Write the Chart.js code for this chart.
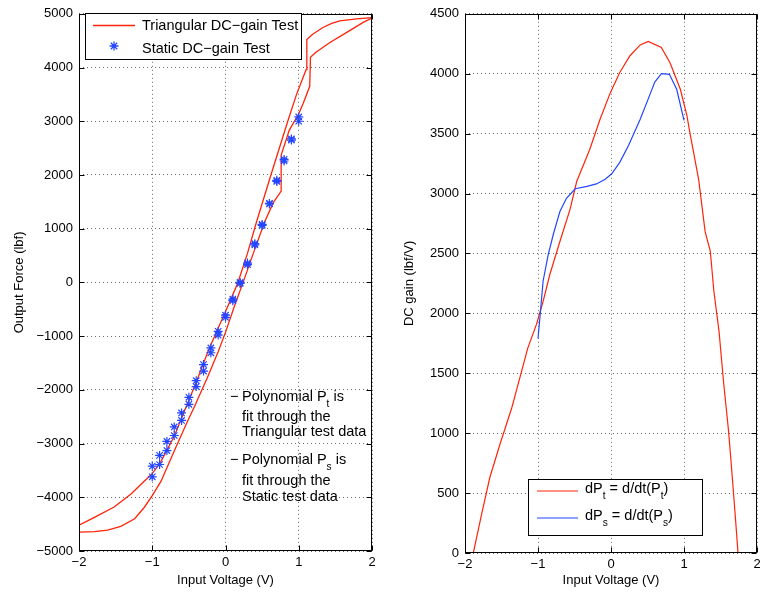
<!DOCTYPE html>
<html>
<head>
<meta charset="utf-8">
<script src="https://cdn.jsdelivr.net/npm/chart.js@4.4.0/dist/chart.umd.min.js"></script>
<style>
  html,body{margin:0;padding:0;background:#fff;overflow:hidden;width:760px;height:596px}
  #wrapIzq{position:absolute;left:0;top:0;width:390px;height:596px}
  #wrapDer{position:absolute;left:390px;top:0;width:400px;height:596px}
</style>
</head>
<body>
<div id="wrapIzq"><canvas id="grafFuerza" width="390" height="596"></canvas></div>
<div id="wrapDer"><canvas id="grafGanancia" width="400" height="596"></canvas></div>
<script>
// ---- datos ----
// rama superior del ensayo triangular (izquierda del lazo)
const triSubeV = [-2, -1.79, -1.52, -1.29, -1.11, -1.0, -0.88, -0.7, -0.52, -0.4, -0.24, -0.1, 0, 0.09, 0.17, 0.3, 0.42, 0.62, 0.85, 0.97, 1.1, 1.11, 1.19, 1.33, 1.45, 1.56, 1.79, 2]
const triSubeF = [-4520, -4375, -4180, -3940, -3700, -3560, -3330, -2865, -2260, -1860, -1290, -850, -540, -260, 0, 540, 1110, 2000, 3000, 3500, 3960, 4520, 4620, 4745, 4820, 4870, 4905, 4930]
// rama inferior (derecha del lazo)
const triBajaV = [-2, -1.79, -1.61, -1.43, -1.24, -1.11, -1.0, -0.88, -0.7, -0.52, -0.42, -0.25, -0.1, 0, 0.12, 0.24, 0.4, 0.53, 0.65, 0.76, 0.76, 0.87, 1.0, 1.06, 1.15, 1.16, 1.23, 1.42, 1.65, 1.88, 2]
const triBajaF = [-4650, -4640, -4610, -4540, -4400, -4190, -3970, -3700, -3140, -2590, -2300, -1780, -1290, -930, -450, 0, 620, 1110, 1480, 1700, 2370, 2830, 3140, 3330, 3650, 4190, 4280, 4460, 4650, 4840, 4920]
// ensayo estatico (dos lecturas por voltaje)
const estaticoV = [-1, -1, -0.9, -0.9, -0.8, -0.8, -0.7, -0.7, -0.6, -0.6, -0.5, -0.5, -0.4, -0.4, -0.3, -0.3, -0.2, -0.2, -0.1, -0.1, 0, 0, 0.1, 0.1, 0.2, 0.2, 0.3, 0.3, 0.4, 0.4, 0.5, 0.5, 0.6, 0.6, 0.7, 0.7, 0.8, 0.8, 0.9, 0.9, 1, 1]
const estaticoF = [-3420, -3620, -3220, -3390, -2960, -3130, -2690, -2850, -2430, -2570, -2140, -2270, -1830, -1940, -1530, -1650, -1220, -1310, -910, -980, -610, -650, -310, -340, 0, -20, 330, 360, 700, 720, 1060, 1080, 1460, 1470, 1880, 1900, 2260, 2290, 2650, 2670, 3000, 3080]
// ganancia DC
const gananciaTV = [-1.886, -1.77, -1.66, -1.52, -1.36, -1.25, -1.14, -1.02, -0.93, -0.84, -0.7, -0.56, -0.47, -0.29, -0.15, -0.01, 0.12, 0.26, 0.4, 0.51, 0.69, 0.81, 0.95, 1.04, 1.08, 1.2, 1.29, 1.36, 1.41, 1.48, 1.54, 1.61, 1.65, 1.7, 1.74]
const gananciaTY = [0, 330, 630, 910, 1210, 1460, 1710, 1910, 2100, 2320, 2600, 2870, 3100, 3370, 3620, 3840, 4010, 4150, 4240, 4270, 4220, 4090, 3870, 3650, 3510, 3120, 2680, 2520, 2180, 1850, 1440, 1020, 720, 330, 0]
const gananciaSV = [-1.0, -0.97, -0.93, -0.86, -0.79, -0.7, -0.61, -0.49, -0.33, -0.2, -0.08, 0.01, 0.12, 0.24, 0.4, 0.51, 0.6, 0.69, 0.8, 0.9, 1.0]
const gananciaSY = [1790, 1990, 2270, 2490, 2660, 2850, 2960, 3040, 3060, 3080, 3120, 3165, 3260, 3400, 3620, 3790, 3930, 4000, 3995, 3870, 3610]
// ticks
const ticksVoltaje = [-2, -1, 0, 1, 2]
const ticksFuerza = [-5000, -4000, -3000, -2000, -1000, 0, 1000, 2000, 3000, 4000, 5000]
const ticksGanancia = [0, 500, 1000, 1500, 2000, 2500, 3000, 3500, 4000, 4500]

const FUENTE = '"Liberation Sans", Arial, Helvetica, sans-serif'
const ROJO = 'rgb(255,35,10)'
const AZUL = 'rgb(35,70,255)'

const pares = (xs, ys) => xs.map((x, i) => ({x: x, y: ys[i]}))
const menos = v => String(v).replace('-', '\u2212')

// texto con subindices: partes en array = subindice
function textoRico(ctx, partes, x, y, size) {
    let cx = x
    partes.forEach(p => {
        const sub = Array.isArray(p)
        const t = sub ? p[0] : p
        ctx.font = (sub ? size * 0.7 : size) + 'px ' + FUENTE
        ctx.fillText(t, cx, sub ? y + size * 0.5 : y)
        cx += ctx.measureText(t).width
    })
}

// marco negro y ticks hacia adentro, estilo matlab
const marco = {
    id: 'marco',
    afterDraw(chart) {
        const {ctx, chartArea: a, scales} = chart
        const l = Math.round(a.left) + 0.5, r = Math.round(a.right) - 0.5
        const t = Math.round(a.top) + 0.5, b = Math.round(a.bottom) - 0.5
        ctx.save()
        ctx.strokeStyle = '#000'
        ctx.lineWidth = 1
        ctx.strokeRect(l, t, r - l, b - t)
        ctx.beginPath()
        scales.x.ticks.forEach(tk => {
            const px = Math.round(scales.x.getPixelForValue(tk.value)) + 0.5
            ctx.moveTo(px, b); ctx.lineTo(px, b - 5)
            ctx.moveTo(px, t); ctx.lineTo(px, t + 5)
        })
        scales.y.ticks.forEach(tk => {
            const py = Math.round(scales.y.getPixelForValue(tk.value)) + 0.5
            ctx.moveTo(l, py); ctx.lineTo(l + 5, py)
            ctx.moveTo(r, py); ctx.lineTo(r - 5, py)
        })
        ctx.stroke()
        ctx.restore()
    }
}

function escalas(ticksX, ticksY, minY, maxY, tituloY, anchoY, altoX) {
    const grilla = {color: 'rgba(0,0,0,0.6)', lineWidth: 1, drawTicks: false}
    return {
        x: {
            type: 'linear', min: -2, max: 2,
            afterBuildTicks: s => { s.ticks = ticksX.map(v => ({value: v})) },
            afterFit: s => { s.height = altoX },
            grid: grilla,
            border: {display: false, dash: [1, 3]},
            ticks: {color: '#000', font: {family: FUENTE, size: 13}, padding: 4, callback: menos, maxRotation: 0},
            title: {display: true, text: 'Input Voltage (V)', color: '#000', font: {family: FUENTE, size: 13}, padding: {top: 0, bottom: 8}}
        },
        y: {
            type: 'linear', min: minY, max: maxY,
            afterBuildTicks: s => { s.ticks = ticksY.map(v => ({value: v})) },
            afterFit: s => { s.width = anchoY },
            grid: grilla,
            border: {display: false, dash: [1, 3]},
            ticks: {color: '#000', font: {family: FUENTE, size: 13}, padding: 6, callback: menos},
            title: {display: true, text: tituloY, color: '#000', font: {family: FUENTE, size: 13}, padding: {top: 12, bottom: 0}}
        }
    }
}

// leyenda y notas del grafico izquierdo
const leyendaFuerza = {
    id: 'leyendaFuerza',
    afterDraw(chart) {
        const ctx = chart.ctx
        ctx.save()
        ctx.fillStyle = '#fff'
        ctx.fillRect(85.5, 13.5, 216, 46)
        ctx.strokeStyle = '#000'
        ctx.lineWidth = 1
        ctx.strokeRect(85.5, 13.5, 216, 46)
        // muestra de linea roja
        ctx.beginPath()
        ctx.strokeStyle = ROJO
        ctx.lineWidth = 1.3
        ctx.moveTo(93, 25.5)
        ctx.lineTo(135, 25.5)
        ctx.stroke()
        // estrella azul
        ctx.strokeStyle = AZUL
        ctx.fillStyle = AZUL
        Chart.helpers.drawPoint(ctx, {pointStyle: 'star', radius: 4.5, borderWidth: 1.2}, 114, 46)
        ctx.fillStyle = '#000'
        ctx.textBaseline = 'middle'
        ctx.font = '14.5px ' + FUENTE
        ctx.fillText('Triangular DC\u2212gain Test', 142, 26)
        ctx.fillText('Static DC\u2212gain Test', 142, 49)
        // notas
        ctx.fillText('\u2212', 230, 397)
        textoRico(ctx, ['Polynomial P', ['t'], ' is'], 242, 397, 14.5)
        ctx.font = '14.5px ' + FUENTE
        ctx.fillText('fit through the', 242, 417)
        ctx.fillText('Triangular test data', 242, 432)
        ctx.fillText('\u2212', 230, 460)
        textoRico(ctx, ['Polynomial P', ['s'], ' is'], 242, 460, 14.5)
        ctx.font = '14.5px ' + FUENTE
        ctx.fillText('fit through the', 242, 481)
        ctx.fillText('Static test data', 242, 497)
        ctx.restore()
    }
}

// leyenda del grafico derecho
const leyendaGanancia = {
    id: 'leyendaGanancia',
    afterDraw(chart) {
        const ctx = chart.ctx
        ctx.save()
        ctx.fillStyle = '#fff'
        ctx.fillRect(138.5, 479.5, 174, 56)
        ctx.strokeStyle = '#000'
        ctx.lineWidth = 1
        ctx.strokeRect(138.5, 479.5, 174, 56)
        ctx.lineWidth = 1.2
        ctx.strokeStyle = ROJO
        ctx.beginPath(); ctx.moveTo(147, 491); ctx.lineTo(188, 491); ctx.stroke()
        ctx.strokeStyle = AZUL
        ctx.beginPath(); ctx.moveTo(147, 518); ctx.lineTo(188, 518); ctx.stroke()
        ctx.fillStyle = '#000'
        ctx.textBaseline = 'middle'
        textoRico(ctx, ['dP', ['t'], ' = d/dt(P', ['t'], ')'], 195, 489, 14.5)
        textoRico(ctx, ['dP', ['s'], ' = d/dt(P', ['s'], ')'], 195, 516, 14.5)
        ctx.restore()
    }
}

// grafico izquierdo: fuerza de salida
new Chart(document.getElementById('grafFuerza'), {
    type: 'scatter',
    data: {
        datasets: [
            {label: 'Static DC-gain Test', data: pares(estaticoV, estaticoF), showLine: false,
             pointStyle: 'star', pointRadius: 4.5, borderColor: AZUL, backgroundColor: AZUL, borderWidth: 1.2},
            {label: 'Triangular DC-gain Test', data: pares(triSubeV, triSubeF), showLine: true,
             pointRadius: 0, borderColor: ROJO, borderWidth: 1.3, tension: 0},
            {label: 'Triangular DC-gain Test b', data: pares(triBajaV, triBajaF), showLine: true,
             pointRadius: 0, borderColor: ROJO, borderWidth: 1.3, tension: 0}
        ]
    },
    options: {
        responsive: false,
        animation: false,
        layout: {padding: {left: 0, right: 18, top: 10, bottom: 0}},
        plugins: {legend: {display: false}, tooltip: {enabled: false}},
        scales: escalas(ticksVoltaje, ticksFuerza, -5000, 5000, 'Output Force (lbf)', 79, 45)
    },
    plugins: [marco, leyendaFuerza]
})

// grafico derecho: ganancia DC
new Chart(document.getElementById('grafGanancia'), {
    type: 'scatter',
    data: {
        datasets: [
            {label: 'dPs', data: pares(gananciaSV, gananciaSY), showLine: true,
             pointRadius: 0, borderColor: AZUL, borderWidth: 1.2},
            {label: 'dPt', data: pares(gananciaTV, gananciaTY), showLine: true,
             pointRadius: 0, borderColor: ROJO, borderWidth: 1.2}
        ]
    },
    options: {
        responsive: false,
        animation: false,
        layout: {padding: {left: 0, right: 33, top: 11, bottom: 0}},
        plugins: {legend: {display: false}, tooltip: {enabled: false}},
        scales: escalas(ticksVoltaje, ticksGanancia, 0, 4500, 'DC gain (lbf/V)', 75, 43)
    },
    plugins: [marco, leyendaGanancia]
})
</script>
</body>
</html>
